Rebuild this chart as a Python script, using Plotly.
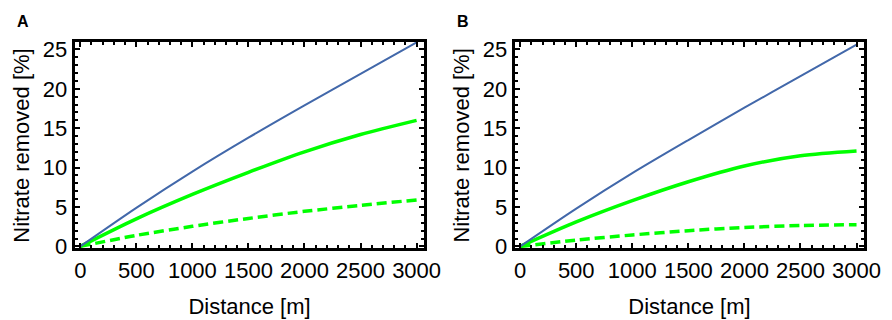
import plotly.graph_objects as go

distance = [0, 500, 1000, 1500, 2000, 2500, 3000]

a_blue = [0, 4.9, 9.5, 13.8, 17.9, 21.9, 25.9]
a_green = [0, 3.5, 6.6, 9.4, 12.0, 14.2, 16.0]
a_green_dash = [0, 1.4, 2.55, 3.55, 4.45, 5.2, 5.9]

b_blue = [0, 4.8, 9.3, 13.5, 17.6, 21.6, 25.6]
b_green = [0, 3.1, 5.8, 8.2, 10.2, 11.5, 12.1]
b_green_dash = [0, 0.8, 1.45, 2.0, 2.4, 2.65, 2.75]

x_ticks = [0, 500, 1000, 1500, 2000, 2500, 3000]
y_ticks = [0, 5, 10, 15, 20, 25]
panel_labels = ["A", "B"]
x_title = "Distance [m]"
y_title = "Nitrate removed [%]"

BLUE = "#4268AA"
GREEN = "#00FF00"
FONT = "Liberation Sans, Arial, sans-serif"
FS = 22

fig = go.Figure()

panels = [
    (a_blue, a_green, a_green_dash, "x", "y"),
    (b_blue, b_green, b_green_dash, "x2", "y2"),
]
for blue, green, gdash, xa, ya in panels:
    fig.add_trace(go.Scatter(x=distance, y=gdash, mode="lines", line=dict(color=GREEN, width=3.5, dash="10px,5px", shape="spline", smoothing=0.8), xaxis=xa, yaxis=ya, showlegend=False))
    fig.add_trace(go.Scatter(x=distance, y=green, mode="lines", line=dict(color=GREEN, width=3.5, shape="spline", smoothing=0.8), xaxis=xa, yaxis=ya, showlegend=False))
    fig.add_trace(go.Scatter(x=distance, y=blue, mode="lines", line=dict(color=BLUE, width=2, shape="spline", smoothing=0.8), xaxis=xa, yaxis=ya, showlegend=False))

W, H = 892, 320
domains_x = [(67 / W, 424 / W), (516 / W, 873 / W)]
dom_y = (1 - 248 / H, 1 - 31 / H)

def xaxis(dom):
    return dict(
        domain=dom, range=[-50, 3070], tickvals=x_ticks, ticktext=[str(v) for v in x_ticks],
        ticks="inside", ticklen=5, tickwidth=2, tickcolor="black",
        minor=dict(ticks="inside", ticklen=3, tickwidth=1.5, tickcolor="black", dtick=100, tick0=0, showgrid=False),
        showline=True, linewidth=3, linecolor="black", mirror="allticks",
        showgrid=False, zeroline=False,
        tickfont=dict(family=FONT, size=FS, color="black"),
        title=dict(text=x_title, font=dict(family=FONT, size=FS, color="black"), standoff=17),
    )

def yaxis(dom, anchor):
    return dict(
        domain=dom, range=[-0.25, 26.0], tickvals=y_ticks, ticktext=[str(v) for v in y_ticks],
        ticks="inside", ticklen=5, tickwidth=2, tickcolor="black",
        minor=dict(ticks="inside", ticklen=3, tickwidth=1.5, tickcolor="black", dtick=1, tick0=0, showgrid=False),
        showline=True, linewidth=3, linecolor="black", mirror="allticks",
        showgrid=False, zeroline=False, anchor=anchor,
        tickfont=dict(family=FONT, size=FS, color="black"),
    )

fig.update_layout(
    width=W, height=H,
    margin=dict(l=0, r=0, t=0, b=0),
    paper_bgcolor="white", plot_bgcolor="white",
    xaxis=xaxis(domains_x[0]),
    yaxis=yaxis(dom_y, "x"),
    xaxis2=dict(xaxis(domains_x[1]), anchor="y2"),
    yaxis2=yaxis(dom_y, "x2"),
)
fig.layout.xaxis.anchor = "y"

y_mid = 1 - 140 / H
for xp in [12.5 / W, 461.5 / W]:
    fig.add_annotation(text=y_title, x=xp, y=y_mid, xref="paper", yref="paper", textangle=-90,
                       showarrow=False, xanchor="center", yanchor="middle",
                       font=dict(family=FONT, size=FS, color="black"))

for lab, xp in zip(panel_labels, [14 / W, 463 / W]):
    fig.add_annotation(text="<b>%s</b>" % lab, x=xp, y=1 - 10 / H, xref="paper", yref="paper",
                       showarrow=False, xanchor="center", yanchor="middle",
                       font=dict(family=FONT, size=16, color="black"))

fig.write_html("out.html")
